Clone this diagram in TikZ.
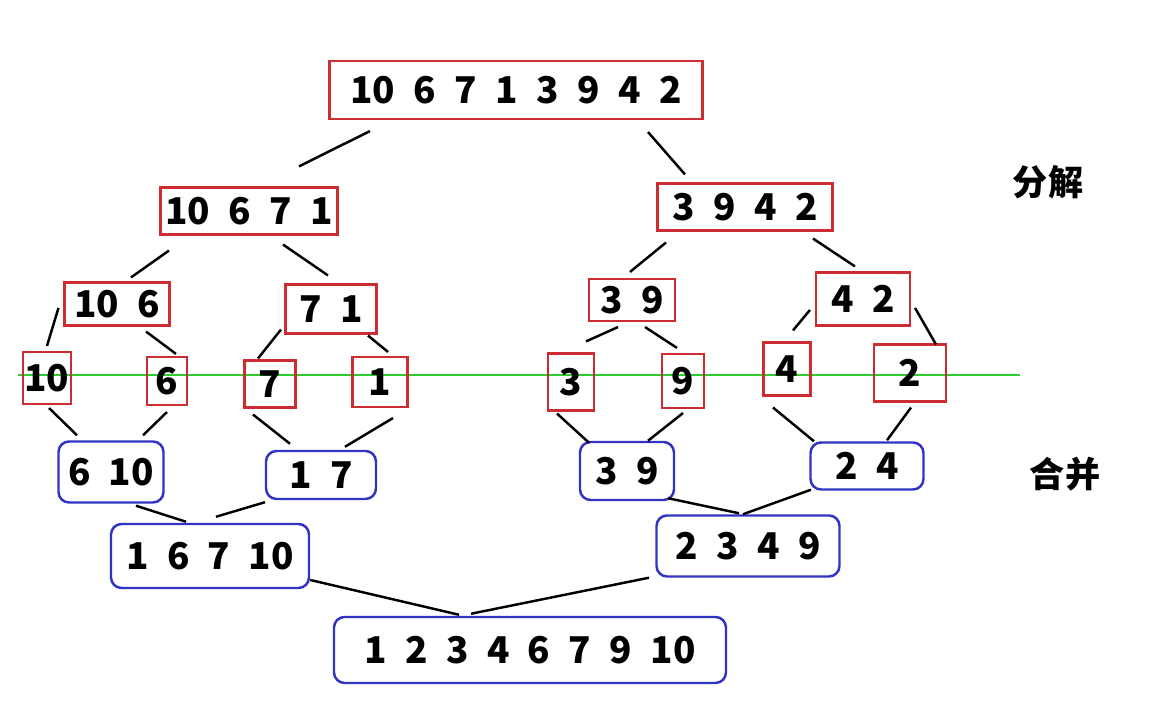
\documentclass[tikz,border=0pt]{standalone}
\usepackage{fontspec}
\setmainfont{Noto Sans CJK SC}
\definecolor{CutRed}{RGB}{205,45,50}
\definecolor{MergeBlue}{RGB}{50,50,195}
\definecolor{LineGreen}{RGB}{45,205,45}
\usetikzlibrary{positioning}

\begin{document}
\begin{tikzpicture}[x=0.1mm, y=-0.1mm,
  cutbox/.style 2 args={rectangle, draw=CutRed, line width=0.6pt, minimum width=#1, minimum height=#2, inner sep=0pt, font=\fontsize{10.5}{12}\selectfont\bfseries},
  mergebox/.style 2 args={rectangle, rounded corners=3pt, draw=MergeBlue, line width=0.7pt, minimum width=#1, minimum height=#2, inner sep=0pt, font=\fontsize{10.5}{12}\selectfont\bfseries},
  link/.style={line width=0.7pt, black},
  cutline/.style={line width=0.8pt, LineGreen},
  tag/.style={font=\fontsize{10}{12}\selectfont\bfseries}
]
\useasboundingbox (0,0) rectangle (1156,705);

% dividing line
\draw[cutline] (18,375) -- (1020,375);

\node[cutbox={37.3mm}{5.8mm}] (root) at (516,90) {10\enspace 6\enspace 7\enspace 1\enspace 3\enspace 9\enspace 4\enspace 2};
\node[cutbox={17.7mm}{4.7mm}] (a) at (249,211) {10\enspace 6\enspace 7\enspace 1};
\node[cutbox={17.5mm}{4.7mm}] (b) at (745,207) {3\enspace 9\enspace 4\enspace 2};
\node[cutbox={10.5mm}{4.3mm}] (a1) at (117,304) {10\enspace 6};
\node[cutbox={9.1mm}{4.9mm}] (a2) at (331,309) {7\enspace 1};
\node[cutbox={8.6mm}{4.2mm}] (b1) at (632,300) {3\enspace 9};
\node[cutbox={9.4mm}{5.3mm}] (b2) at (863,299) {4\enspace 2};
\node[cutbox={4.8mm}{5.2mm}] (s10) at (47,378) {10};
\node[cutbox={4.0mm}{4.8mm}] (s6) at (167,381) {6};
\node[cutbox={5.1mm}{4.7mm}] (s7) at (270,384) {7};
\node[cutbox={5.5mm}{5.0mm}] (s1) at (380,382) {1};
\node[cutbox={4.6mm}{5.7mm}] (s3) at (571,382) {3};
\node[cutbox={4.2mm}{5.4mm}] (s9) at (683,381) {9};
\node[cutbox={4.7mm}{5.3mm}] (s4) at (787,369) {4};
\node[cutbox={7.2mm}{5.7mm}] (s2) at (910,373) {2};

\node[mergebox={10.5mm}{6.1mm}] (m1) at (111,472) {6\enspace 10};
\node[mergebox={11.0mm}{4.8mm}] (m2) at (321,475) {1\enspace 7};
\node[mergebox={9.4mm}{5.8mm}] (m3) at (627,471) {3\enspace 9};
\node[mergebox={11.3mm}{4.7mm}] (m4) at (867,466) {2\enspace 4};
\node[mergebox={19.8mm}{6.4mm}] (l) at (210,556) {1\enspace 6\enspace 7\enspace 10};
\node[mergebox={18.3mm}{6.1mm}] (r) at (748,546) {2\enspace 3\enspace 4\enspace 9};
\node[mergebox={39.2mm}{6.6mm}] (fin) at (530,650) {1\enspace 2\enspace 3\enspace 4\enspace 6\enspace 7\enspace 9\enspace 10};

% split
\draw[link] ([shift={(-146,11)}]root.south) -- ([shift={(50,-20)}]a.north);
\draw[link] ([shift={(132,12)}]root.south) -- ([shift={(-60,-8)}]b.north);
\draw[link] ([shift={(-80,15)}]a.south) -- ([shift={(14,-4)}]a1.north);
\draw[link] ([shift={(34,9)}]a.south) -- ([shift={(-3,-8)}]a2.north);
\draw[link] ([shift={(-79,11)}]b.south) -- ([shift={(-2,-6)}]b1.north);
\draw[link] ([shift={(68,7)}]b.south) -- ([shift={(-8,-5)}]b2.north);
\draw[link] ([shift={(-5,4)}]a1.west) -- ([shift={(0,-5)}]s10.north);
\draw[link] ([shift={(29,5)}]a1.south) -- ([shift={(9,-2)}]s6.north);
\draw[link] ([shift={(-50,-5)}]a2.south) -- ([shift={(-12,-1)}]s7.north);
\draw[link] ([shift={(37,1)}]a2.south) -- ([shift={(8,-4)}]s1.north);
\draw[link] ([shift={(-14,5)}]b1.south) -- ([shift={(15,-11)}]s3.north);
\draw[link] ([shift={(13,5)}]b1.south) -- ([shift={(-6,-5)}]s9.north);
\draw[link] ([shift={(-5,11)}]b2.west) -- ([shift={(6,-11)}]s4.north);
\draw[link] ([shift={(4,9)}]b2.east) -- ([shift={(26,1)}]s2.north);

% merge
\draw[link] ([shift={(2,3)}]s10.south) -- ([shift={(-34,-5)}]m1.north);
\draw[link] ([shift={(0,6)}]s6.south) -- ([shift={(32,-5)}]m1.north);
\draw[link] ([shift={(-17,6)}]s7.south) -- ([shift={(-31,-6)}]m2.north);
\draw[link] ([shift={(13,10)}]s1.south) -- ([shift={(24,-3)}]m2.north);
\draw[link] ([shift={(-14,2)}]s3.south) -- ([shift={(-38,2)}]m3.north);
\draw[link] ([shift={(0,4)}]s9.south) -- ([shift={(21,0)}]m3.north);
\draw[link] ([shift={(-14,11)}]s4.south) -- ([shift={(-53,0)}]m4.north);
\draw[link] ([shift={(1,5)}]s2.south) -- ([shift={(20,-1)}]m4.north);
\draw[link] ([shift={(25,2)}]m1.south) -- ([shift={(-24,-1)}]l.north);
\draw[link] ([shift={(-56,2)}]m2.south) -- ([shift={(6,-6)}]l.north);
\draw[link] ([shift={(41,-3)}]m3.south) -- ([shift={(-9,-1)}]r.north);
\draw[link] ([shift={(-56,-1)}]m4.south) -- ([shift={(-5,0)}]r.north);
\draw[link] ([shift={(0,24)}]l.east) -- ([shift={(-71,-1)}]fin.north);
\draw[link] ([shift={(-99,0)}]r.south) -- ([shift={(-59,-2)}]fin.north);

% stage labels
\node[tag] (split) at (1048,182) {分解};
\node[tag] (merge) at (1065,474) {合并};

\end{tikzpicture}
\end{document}
